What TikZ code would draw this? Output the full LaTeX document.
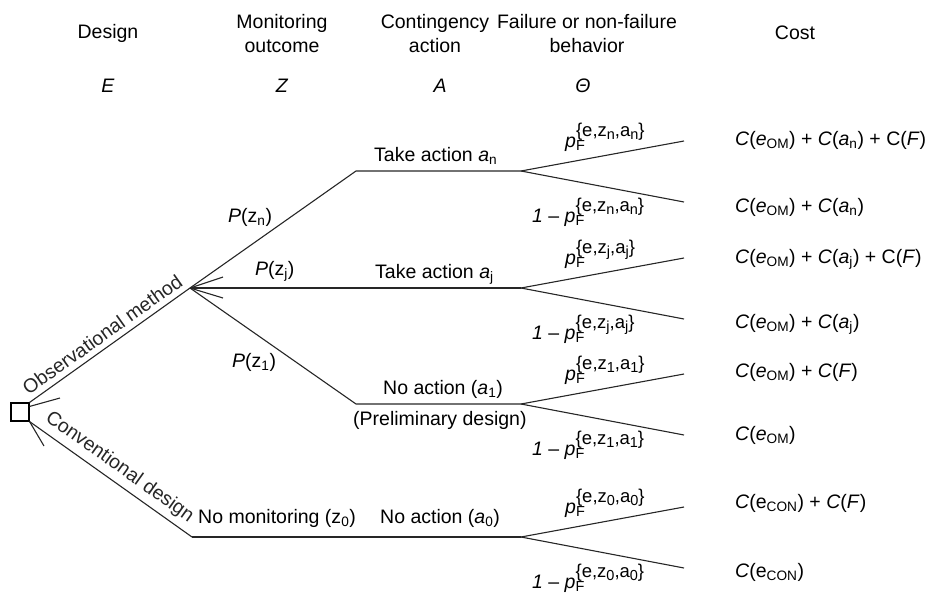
\documentclass[tikz,border=0pt]{standalone}
\usepackage{fontspec}
\setmainfont{Liberation Sans}

\tikzset{
  tree/.style={line width=1.1pt, black!85},
  head/.style={align=center},
  lab/.style={anchor=base west, inner sep=0pt},
  cost/.style={anchor=base west, inner sep=0pt},
}
% failure probability p_F^{e,z,a}
\newcommand{\smallsub}[1]{\raisebox{-3pt}{\fontsize{14.5}{14.5}\selectfont #1}}
\newcommand{\pfl}[2]{\textit{p}\rlap{\raisebox{-3pt}{\fontsize{14.5}{14.5}\selectfont F}}%
  \raisebox{11pt}{\fontsize{18.5}{18.5}\selectfont\{e,z\smallsub{#1},a\smallsub{#2}\}}}

\begin{document}
\begin{tikzpicture}[x=1pt, y=-1pt, font=\fontsize{19.5}{24}\selectfont]
    \useasboundingbox (0,0) rectangle (928,594);

    % column heads
    \node[head] (hE) at (108,33) {Design};
    \node[head] (hZ) at (282,34) {Monitoring\\outcome};
    \node[head] (hA) at (435,34) {Contingency\\action};
    \node[head] (hT) at (587,34) {Failure or non-failure\\behavior};
    \node[head] (hC) at (795,33) {Cost};
    \node (vE) at (108,86) {\textit{E}};
    \node (vZ) at (282,86) {\textit{Z}};
    \node (vA) at (440,86) {\textit{A}};
    \node (vT) at (583,86) {\textit{Θ}};

    % decision node
    \node[draw, line width=1.1pt, fill=white, minimum size=18pt, inner sep=0pt] (dec) at (20,412) {};

    % branch points
    \coordinate (obs) at (190,288);
    \coordinate (con) at (192,537);
    \coordinate (an) at (356,171);
    \coordinate (a1) at (356,404);
    \coordinate (fn) at (521,171);
    \coordinate (fj) at (521,288);
    \coordinate (f1) at (521,404);
    \coordinate (f0) at (521,537);
    \coordinate (s1) at (60,398);
    \coordinate (s2) at (44,446);
    \coordinate (s3) at (223,277);
    \coordinate (s4) at (223,298);

    % design alternatives
    \draw[tree] (dec.north east) -- node[sloped, above=2pt] (lobs) {Observational method} (obs);
    \draw[tree] (dec.south east) -- node[sloped, above=2pt] (lcon) {Conventional design} (con);
    \draw[tree] ([yshift=-4pt]dec.north east) -- (s1);
    \draw[tree] (dec.south east) -- (s2);

    % monitoring outcomes and actions
    \draw[tree] (obs) -- (an) -- (fn);
    \draw[tree] (obs) -- (fj);
    \draw[tree] (obs) -- (a1) -- (f1);
    \draw[tree] (obs) -- (s3);
    \draw[tree] (obs) -- (s4);
    \draw[tree] (con) -- (f0);

    \node[lab] (pzn) at (228,222) {\textit{P}(z\textsubscript{n})};
    \node[lab] (pzj) at (255,275) {\textit{P}(z\textsubscript{j})};
    \node[lab] (pz1) at (232,367) {\textit{P}(z\textsubscript{1})};
    \node[lab] (z0) at (198,523) {No monitoring (z\textsubscript{0})};

    \node[lab] (acn) at (374,161) {Take action \textit{a}\textsubscript{n}};
    \node[lab] (acj) at (375,278) {Take action \textit{a}\textsubscript{j}};
    \node[lab] (ac1) at (383,394) {No action (\textit{a}\textsubscript{1})};
    \node[lab] (pre) at (353,425) {(Preliminary design)};
    \node[lab] (ac0) at (380,523) {No action (\textit{a}\textsubscript{0})};

    % failure / non-failure
    \foreach \k/\y in {n/171, j/288, 1/404, 0/537}{
        \coordinate (tu\k) at (684,\y-30);
        \coordinate (tl\k) at (684,\y+31);
        \draw[tree] (f\k) -- (tu\k);
        \draw[tree] (f\k) -- (tl\k);
        \node[lab] (pu\k) at (565,\y-24) {\pfl{\k}{\k}};
        \node[lab] (pl\k) at (532,\y+51) {\textit{1} – \pfl{\k}{\k}};
    }

    % costs
    \node[cost] (c1) at (735,145) {\textit{C}(\textit{e}\textsubscript{OM}) + \textit{C}(\textit{a}\textsubscript{n}) + C(\textit{F})};
    \node[cost] (c2) at (735,212) {\textit{C}(\textit{e}\textsubscript{OM}) + \textit{C}(\textit{a}\textsubscript{n})};
    \node[cost] (c3) at (735,263) {\textit{C}(\textit{e}\textsubscript{OM}) + \textit{C}(\textit{a}\textsubscript{j}) + C(\textit{F})};
    \node[cost] (c4) at (735,328) {\textit{C}(\textit{e}\textsubscript{OM}) + \textit{C}(\textit{a}\textsubscript{j})};
    \node[cost] (c5) at (735,377) {\textit{C}(\textit{e}\textsubscript{OM}) + \textit{C}(\textit{F})};
    \node[cost] (c6) at (735,440) {\textit{C}(\textit{e}\textsubscript{OM})};
    \node[cost] (c7) at (735,508) {\textit{C}(e\textsubscript{CON}) + \textit{C}(\textit{F})};
    \node[cost] (c8) at (735,577) {\textit{C}(e\textsubscript{CON})};
\end{tikzpicture}
\end{document}
